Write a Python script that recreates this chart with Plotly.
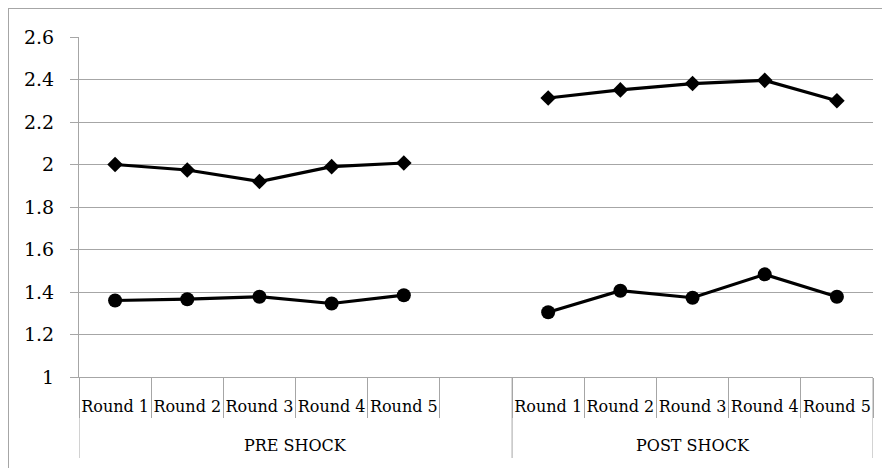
import plotly.graph_objects as go

groups = ["PRE SHOCK"] * 6 + ["POST SHOCK"] * 5
rounds = ["Round 1", "Round 2", "Round 3", "Round 4", "Round 5", "",
          "Round 1", "Round 2", "Round 3", "Round 4", "Round 5"]
series_diamond = [2.00, 1.974, 1.92, 1.99, 2.007, None,
                  2.313, 2.351, 2.381, 2.396, 2.30]
series_circle = [1.36, 1.366, 1.378, 1.346, 1.385, None,
                 1.305, 1.406, 1.373, 1.483, 1.378]
y_ticks = [1, 1.2, 1.4, 1.6, 1.8, 2, 2.2, 2.4, 2.6]

# unique category keys (group + round) so repeated round names stay separate
cats = [f"{g}|{r}|{i}" for i, (g, r) in enumerate(zip(groups, rounds))]

# page has an 8px body margin; figure sized to fit the 890x468 window
OFF = 8
W, H = 890 - OFF, 468 - OFF
ML, MR, MT, MB = 71, 17, 29, 91
PW, PH = W - ML - MR, H - MT - MB

GRID = "#A6A6A6"
FONT = "DejaVu Serif"

fig = go.Figure()
fig.add_trace(go.Scatter(
    x=cats, y=series_diamond, mode="lines+markers",
    line=dict(color="black", width=3.2),
    marker=dict(symbol="diamond", size=12, color="black"),
    connectgaps=False, showlegend=False))
fig.add_trace(go.Scatter(
    x=cats, y=series_circle, mode="lines+markers",
    line=dict(color="black", width=3.2),
    marker=dict(symbol="circle", size=14, color="black"),
    connectgaps=False, showlegend=False))

# group labels and group dividers
group_names = list(dict.fromkeys(groups))
for g in group_names:
    idx = [i for i, gg in enumerate(groups) if gg == g]
    fig.add_annotation(x=(idx[0] + idx[-1]) / 2, xref="x", y=-68 / PH, yref="paper",
                       text=g, showarrow=False, yanchor="middle",
                       font=dict(family=FONT, size=16, color="black"))
bounds = sorted({i - 0.5 for i in range(len(groups)) if i == 0 or groups[i] != groups[i - 1]}
                | {len(groups) - 0.5})
for b in bounds:
    fig.add_shape(type="line", xref="x", yref="paper", x0=b, x1=b, y0=0, y1=-81 / PH,
                  line=dict(color=GRID, width=1))

# outer frame (left and top edges visible)
fig.add_shape(type="line", xref="paper", yref="paper", x0=-ML / PW, x1=1.2,
              y0=1 + (MT - 0.5) / PH, y1=1 + (MT - 0.5) / PH, line=dict(color=GRID, width=1))
fig.add_shape(type="line", xref="paper", yref="paper", x0=(-ML + 0.5) / PW, x1=(-ML + 0.5) / PW,
              y0=1 + MT / PH, y1=-1, line=dict(color=GRID, width=1))

fig.update_layout(
    width=W, height=H,
    margin=dict(l=ML, r=MR, t=MT, b=MB),
    plot_bgcolor="white", paper_bgcolor="white",
    font=dict(family=FONT, color="black"),
    xaxis=dict(
        type="category", automargin=False, tickangle=0,
        range=[-0.5, len(cats) - 0.5],
        tickvals=cats, ticktext=rounds,
        showgrid=False, showline=True, linecolor=GRID, linewidth=1,
        ticks="outside", tickson="boundaries", ticklen=40, tickcolor=GRID,
        tickfont=dict(family=FONT, size=16, color="black"),
        ticklabelstandoff=15,
    ),
    yaxis=dict(
        range=[1, 2.6], tickvals=y_ticks, ticktext=[f"{v:g}" for v in y_ticks],
        automargin=False,
        showgrid=True, gridcolor=GRID, gridwidth=1,
        showline=True, linecolor=GRID, linewidth=1,
        ticks="outside", ticklen=8, tickcolor=GRID,
        zeroline=False,
        tickfont=dict(family=FONT, size=19, color="black"),
        ticklabelstandoff=12,
    ),
)

fig.write_html("out.html")
